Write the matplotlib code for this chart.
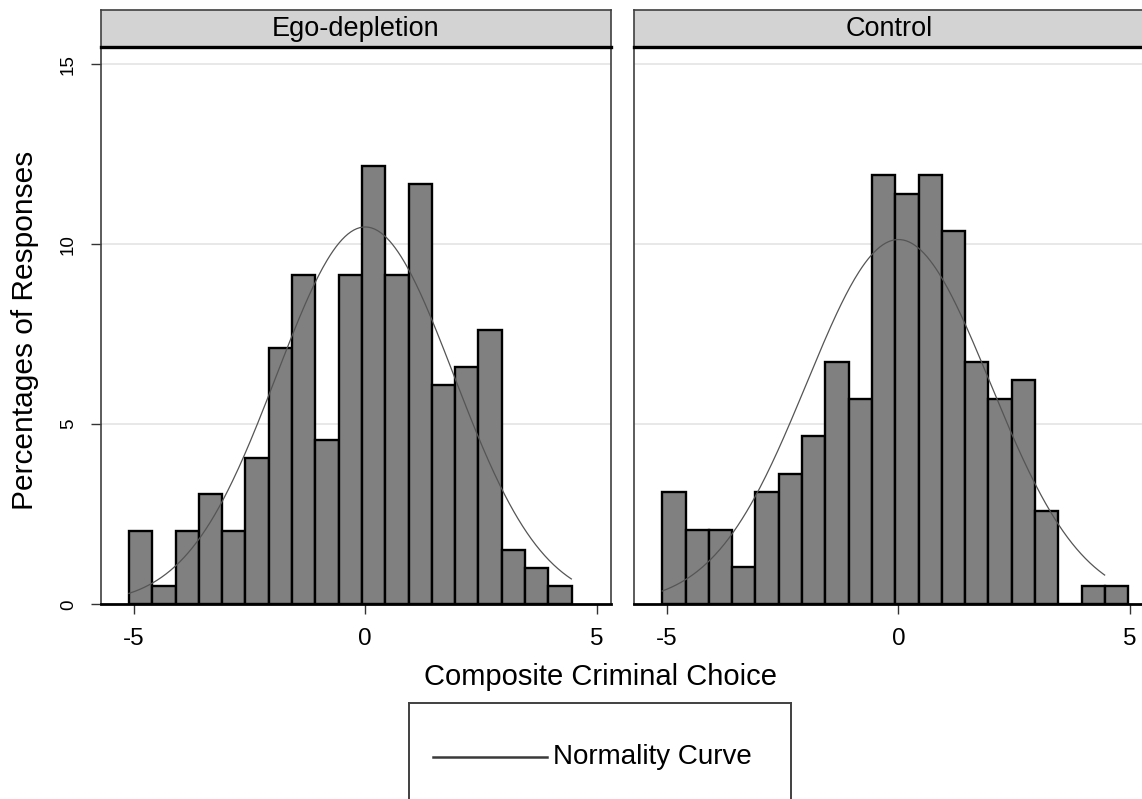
import numpy as np
import matplotlib.pyplot as plt
from matplotlib.lines import Line2D

plt.rcParams['font.family'] = ['Liberation Sans', 'DejaVu Sans']

# histogram data: percentage of responses per bin
bin_start = -5.1
bin_width = 0.503
ego_pct = [2.03, 0.51, 2.03, 3.05, 2.03, 4.06, 7.11, 9.14, 4.57, 9.14,
           12.18, 9.14, 11.68, 6.09, 6.60, 7.61, 1.52, 1.02, 0.51]
ctrl_pct = [3.11, 2.07, 2.07, 1.04, 3.11, 3.63, 4.66, 6.74, 5.70, 11.92,
            11.40, 11.92, 10.36, 6.74, 5.70, 6.22, 2.59, 0.00, 0.52, 0.52]

# fitted normal curves (mean, sd) and the x-range they are drawn over
ego_fit = (0.0, 1.915)
ctrl_fit = (0.0, 1.981)
curve_range = (-5.1, 4.45)

panels = [("Ego-depletion", ego_pct, ego_fit), ("Control", ctrl_pct, ctrl_fit)]

W, H = 1142, 799
fig = plt.figure(figsize=(W / 100, H / 100), dpi=100)


def fx(px):
    return px / W


def fy(py):
    return 1 - py / H


ax_left = [100.7, 634.0]
ax_w = 510.0
top, bottom = 46.5, 604.3

for i, (title, pct, (mu, sd)) in enumerate(panels):
    x0 = ax_left[i]
    ax = fig.add_axes([fx(x0), fy(bottom), fx(ax_w), (bottom - top) / H])
    edges = bin_start + bin_width * np.arange(len(pct))
    ax.bar(edges, pct, width=bin_width, align='edge', color='#808080',
           edgecolor='black', linewidth=1.7, zorder=2)

    xs = np.linspace(curve_range[0], curve_range[1], 300)
    dens = np.exp(-0.5 * ((xs - mu) / sd) ** 2) / (sd * np.sqrt(2 * np.pi))
    ax.plot(xs, dens * bin_width * 100, color='#555555', lw=0.9, zorder=3)

    ax.set_xlim(-5.71, 5.30)
    ax.set_ylim(0, 15.49)
    for g in (5, 10, 15):
        ax.axhline(g, color='#e4e4e4', lw=1.2, zorder=0)

    ax.set_xticks([-5, 0, 5])
    ax.set_xticklabels(['-5', '0', '5'])
    ax.tick_params(axis='x', length=7.2, width=1.0, color='#333333',
                   labelsize=17.5, pad=10)
    if i == 0:
        ax.set_yticks([0, 5, 10, 15])
        ax.set_yticklabels(['0', '5', '10', '15'], rotation=90, va='center')
        ax.tick_params(axis='y', length=7.2, width=1.0, color='#333333',
                       labelsize=13.5, pad=10)
    else:
        ax.set_yticks([])

    ax.spines['top'].set_visible(False)
    for s in ('left', 'right'):
        ax.spines[s].set_color('#404040')
        ax.spines[s].set_linewidth(1.2)
    ax.spines['bottom'].set_color('black')
    ax.spines['bottom'].set_linewidth(2.0)

    # panel header strip
    st = fig.add_axes([fx(x0), fy(top), fx(ax_w), (top - 10) / H])
    st.set_facecolor('#d3d3d3')
    st.set_xticks([])
    st.set_yticks([])
    for s in ('left', 'right', 'top'):
        st.spines[s].set_color('#404040')
        st.spines[s].set_linewidth(1.2)
    st.spines['bottom'].set_color('black')
    st.spines['bottom'].set_linewidth(2.4)
    st.text(0.5, 0.47, title, ha='center', va='center', fontsize=19.5,
            transform=st.transAxes)

fig.text(fx(25), fy(330), "Percentages of Responses", rotation=90,
         ha='center', va='center', fontsize=21.5)
fig.text(fx(600), fy(677), "Composite Criminal Choice", ha='center',
         va='center', fontsize=21)

# legend box running off the bottom edge
lg = fig.add_axes([fx(409), -0.05, fx(381.7), (H - 703.3) / H + 0.05])
lg.set_xticks([])
lg.set_yticks([])
lg.patch.set_alpha(0)
for s in lg.spines.values():
    s.set_color('#404040')
    s.set_linewidth(1.4)
fig.add_artist(Line2D([fx(433), fx(546.7)], [fy(756.7), fy(756.7)],
                      color='#3a3a3a', lw=1.8))
fig.text(fx(552.7), fy(757), "Normality Curve", ha='left', va='center',
         fontsize=20)

plt.savefig("out.png", dpi=100)
